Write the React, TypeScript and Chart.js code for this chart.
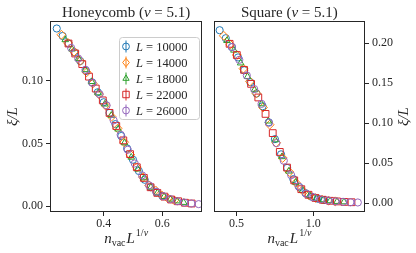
import React, { useEffect, useRef } from 'react';
import { Chart, registerables } from 'chart.js';
Chart.register(...registerables);

const seriesLabels = ['10000', '14000', '18000', '22000', '26000'];
const colors = ['#1f77b4', '#ff7f0e', '#2ca02c', '#d62728', '#9467bd'];
const markers = ['circle', 'rectRot', 'triangle', 'rect', 'circle'];
const radii = [3.6, 4.4, 3.8, 4.8, 3.6];

// Honeycomb panel
const honeyX10000 = [0.24, 0.26, 0.28, 0.30, 0.32, 0.34, 0.36, 0.38, 0.40, 0.42, 0.44, 0.46, 0.48, 0.50, 0.52, 0.54, 0.56, 0.58, 0.60];
const honeyY10000 = [0.142, 0.136, 0.130, 0.123, 0.116, 0.108, 0.099, 0.091, 0.083, 0.0745, 0.0655, 0.056, 0.046, 0.037, 0.028, 0.021, 0.015, 0.011, 0.008];
const honeyX14000 = [0.256, 0.278, 0.299, 0.320, 0.342, 0.363, 0.384, 0.406, 0.427, 0.448, 0.470, 0.491, 0.513, 0.534, 0.555, 0.577, 0.598, 0.620, 0.641];
const honeyY14000 = [0.137, 0.1305, 0.1235, 0.116, 0.107, 0.098, 0.0895, 0.0805, 0.0715, 0.062, 0.051, 0.041, 0.031, 0.023, 0.0165, 0.0125, 0.0085, 0.006, 0.0045];
const honeyX18000 = [0.269, 0.292, 0.314, 0.337, 0.359, 0.381, 0.404, 0.426, 0.449, 0.471, 0.494, 0.516, 0.538, 0.561, 0.583, 0.606, 0.628, 0.651, 0.673];
const honeyY18000 = [0.133, 0.1255, 0.118, 0.109, 0.0995, 0.0905, 0.0815, 0.0725, 0.0615, 0.0505, 0.039, 0.0295, 0.0225, 0.015, 0.0105, 0.0075, 0.0055, 0.004, 0.0028];
const honeyX22000 = [0.280, 0.303, 0.327, 0.350, 0.373, 0.397, 0.420, 0.443, 0.467, 0.490, 0.513, 0.537, 0.560, 0.583, 0.607, 0.630, 0.654, 0.677, 0.700];
const honeyY22000 = [0.130, 0.122, 0.1135, 0.1035, 0.094, 0.0845, 0.0745, 0.064, 0.0525, 0.0415, 0.031, 0.0225, 0.015, 0.0105, 0.0075, 0.0052, 0.0038, 0.0026, 0.002];
const honeyX26000 = [0.289, 0.313, 0.338, 0.362, 0.386, 0.410, 0.434, 0.458, 0.482, 0.506, 0.531, 0.555, 0.579, 0.603, 0.627, 0.651, 0.675, 0.699, 0.724];
const honeyY26000 = [0.1265, 0.118, 0.109, 0.0985, 0.0895, 0.0805, 0.0685, 0.057, 0.045, 0.034, 0.0245, 0.0165, 0.0115, 0.0078, 0.0055, 0.0038, 0.0027, 0.002, 0.0015];

// Square panel
const squareX10000 = [0.39, 0.43, 0.47, 0.51, 0.55, 0.59, 0.63, 0.67, 0.71, 0.75, 0.79, 0.83, 0.87, 0.91, 0.95, 0.99, 1.03, 1.07];
const squareY10000 = [0.216, 0.206, 0.195, 0.182, 0.166, 0.151, 0.137, 0.121, 0.101, 0.080, 0.061, 0.044, 0.030, 0.020, 0.0125, 0.008, 0.0055, 0.004];
const squareX14000 = [0.417, 0.459, 0.502, 0.545, 0.587, 0.630, 0.673, 0.716, 0.758, 0.801, 0.844, 0.887, 0.929, 0.972, 1.015, 1.057, 1.100, 1.143];
const squareY14000 = [0.209, 0.198, 0.185, 0.168, 0.152, 0.137, 0.1195, 0.098, 0.0755, 0.0565, 0.039, 0.0255, 0.016, 0.0098, 0.0065, 0.0045, 0.0032, 0.0024];
const squareX18000 = [0.438, 0.483, 0.527, 0.572, 0.617, 0.662, 0.707, 0.752, 0.796, 0.841, 0.886, 0.931, 0.976, 1.020, 1.065, 1.110, 1.155, 1.200];
const squareY18000 = [0.203, 0.191, 0.175, 0.158, 0.1415, 0.124, 0.1025, 0.079, 0.058, 0.040, 0.026, 0.016, 0.0096, 0.006, 0.0042, 0.003, 0.0021, 0.0016];
const squareX22000 = [0.455, 0.502, 0.549, 0.595, 0.642, 0.689, 0.736, 0.782, 0.829, 0.876, 0.922, 0.969, 1.015, 1.062, 1.109, 1.155, 1.202, 1.249];
const squareY22000 = [0.199, 0.185, 0.1665, 0.149, 0.132, 0.1115, 0.0875, 0.064, 0.0445, 0.0285, 0.0175, 0.0105, 0.0065, 0.0043, 0.003, 0.0022, 0.0016, 0.0012];
const squareX26000 = [0.470, 0.518, 0.567, 0.615, 0.663, 0.711, 0.760, 0.808, 0.856, 0.904, 0.953, 1.001, 1.049, 1.097, 1.145, 1.194, 1.242, 1.290];
const squareY26000 = [0.195, 0.179, 0.1595, 0.1425, 0.124, 0.1005, 0.075, 0.053, 0.035, 0.021, 0.012, 0.0074, 0.0047, 0.0034, 0.0023, 0.0017, 0.0012, 0.0009];

const honeyXTicks = [0.4, 0.6];
const honeyYTicks = [0, 0.05, 0.1];
const squareXTicks = [0.5, 1.0];
const squareYTicks = [0, 0.05, 0.1, 0.15, 0.2];

const honeyXs = [honeyX10000, honeyX14000, honeyX18000, honeyX22000, honeyX26000];
const honeyYs = [honeyY10000, honeyY14000, honeyY18000, honeyY22000, honeyY26000];
const squareXs = [squareX10000, squareX14000, squareX18000, squareX22000, squareX26000];
const squareYs = [squareY10000, squareY14000, squareY18000, squareY22000, squareY26000];

const SERIF = "'Liberation Serif', 'DejaVu Serif', serif";
const INK = '#262626';

type Part = { t: string; f: string; dy?: number; dx?: number };

function drawParts(ctx: CanvasRenderingContext2D, parts: Part[], cx: number, y: number, align: 'center' | 'left' = 'center') {
  let total = 0;
  for (const p of parts) {
    ctx.font = p.f;
    total += ctx.measureText(p.t).width + (p.dx || 0);
  }
  let x = align === 'center' ? cx - total / 2 : cx;
  ctx.textBaseline = 'alphabetic';
  ctx.textAlign = 'left';
  for (const p of parts) {
    ctx.font = p.f;
    x += p.dx || 0;
    ctx.fillText(p.t, x, y + (p.dy || 0));
    x += ctx.measureText(p.t).width;
  }
}

function drawMarker(ctx: CanvasRenderingContext2D, style: string, x: number, y: number, r: number) {
  ctx.beginPath();
  if (style === 'circle') {
    ctx.arc(x, y, r, 0, Math.PI * 2);
  } else if (style === 'rect') {
    const s = Math.SQRT1_2 * r;
    ctx.rect(x - s, y - s, 2 * s, 2 * s);
  } else if (style === 'rectRot') {
    ctx.moveTo(x, y - r); ctx.lineTo(x + r * 0.8, y); ctx.lineTo(x, y + r); ctx.lineTo(x - r * 0.8, y); ctx.closePath();
  } else if (style === 'triangle') {
    ctx.moveTo(x, y - r); ctx.lineTo(x + r * 0.87, y + r * 0.5); ctx.lineTo(x - r * 0.87, y + r * 0.5); ctx.closePath();
  }
  ctx.stroke();
}

function xLabelParts(): Part[] {
  return [
    { t: 'n', f: `italic 15px ${SERIF}` },
    { t: 'vac', f: `10px ${SERIF}`, dy: 3 },
    { t: 'L', f: `italic 15px ${SERIF}`, dx: 1 },
    { t: '1/', f: `10px ${SERIF}`, dy: -7, dx: 1 },
    { t: 'ν', f: `italic 10px ${SERIF}`, dy: -7 },
  ];
}

function makeDatasets(xs: number[][], ys: number[][]) {
  return xs.map((xArr, i) => ({
    label: 'L = ' + seriesLabels[i],
    data: xArr.map((x, j) => ({ x, y: ys[i][j] })),
    pointStyle: markers[i],
    pointRadius: radii[i],
    pointBorderWidth: 1,
    borderColor: colors[i],
    backgroundColor: 'rgba(0,0,0,0)',
    pointBackgroundColor: 'rgba(0,0,0,0)',
    showLine: false,
    order: 4 - i,
  }));
}

function tickAxis(min: number, max: number, ticks: number[], digits: number, position: string, size: number, isX: boolean) {
  return {
    type: 'linear',
    position,
    min,
    max,
    afterBuildTicks: (scale: any) => { scale.ticks = ticks.map((v) => ({ value: v })); },
    afterFit: (scale: any) => { if (isX) scale.height = size; else scale.width = size; },
    grid: { display: true, drawOnChartArea: false, drawTicks: true, tickLength: 4, color: INK },
    border: { display: false },
    ticks: {
      padding: isX ? 1 : 3,
      color: INK,
      font: { family: SERIF, size: 12 },
      maxRotation: 0,
      callback: (v: any) => Number(v).toFixed(digits),
    },
  };
}

const framePlugin = {
  id: 'frame',
  afterDraw(chart: any) {
    const { ctx, chartArea: a } = chart;
    ctx.save();
    ctx.strokeStyle = INK;
    ctx.lineWidth = 1;
    ctx.strokeRect(Math.round(a.left) + 0.5, Math.round(a.top) + 0.5, Math.round(a.right - a.left) - 1, Math.round(a.bottom - a.top) - 1);
    ctx.restore();
  },
};

function LeftPanel() {
  const ref = useRef<HTMLCanvasElement>(null);
  useEffect(() => {
    const textPlugin = {
      id: 'leftText',
      afterDraw(chart: any) {
        const { ctx, chartArea: a } = chart;
        ctx.save();
        ctx.fillStyle = INK;
        const cx = (a.left + a.right) / 2;
        drawParts(ctx, [
          { t: 'Honeycomb (', f: `15px ${SERIF}` },
          { t: 'ν', f: `italic 15px ${SERIF}` },
          { t: ' = 5.1)', f: `15px ${SERIF}` },
        ], cx, 17);
        drawParts(ctx, xLabelParts(), cx, 243);
        // y label
        ctx.save();
        ctx.translate(17, (a.top + a.bottom) / 2);
        ctx.rotate(-Math.PI / 2);
        drawParts(ctx, [{ t: 'ξ/', f: `italic 15px ${SERIF}` }, { t: 'L', f: `italic 15px ${SERIF}` }], 0, 0);
        ctx.restore();
        // legend
        const bx = 119, by = 37, bw = 80, bh = 82;
        ctx.beginPath();
        ctx.roundRect(bx + 0.5, by + 0.5, bw, bh, 3);
        ctx.fillStyle = 'rgba(255,255,255,0.8)';
        ctx.fill();
        ctx.strokeStyle = '#cccccc';
        ctx.lineWidth = 1;
        ctx.stroke();
        for (let i = 0; i < 5; i++) {
          const yy = by + 9.5 + i * 16;
          ctx.strokeStyle = colors[i];
          ctx.lineWidth = 1;
          ctx.beginPath();
          ctx.moveTo(126, yy - 6);
          ctx.lineTo(126, yy + 6);
          ctx.stroke();
          drawMarker(ctx, markers[i], 126, yy, radii[i] * 0.95);
          ctx.fillStyle = INK;
          drawParts(ctx, [
            { t: 'L', f: `italic 12.5px ${SERIF}` },
            { t: ' = ' + seriesLabels[i], f: `12.5px ${SERIF}` },
          ], 136, yy + 4.5, 'left');
        }
        ctx.restore();
      },
    };
    const chart = new Chart(ref.current as HTMLCanvasElement, {
      type: 'scatter',
      data: { datasets: makeDatasets(honeyXs, honeyYs) as any },
      options: {
        animation: false,
        responsive: false,
        layout: { padding: { top: 21, right: 5, left: 0, bottom: 0 } },
        plugins: { legend: { display: false }, tooltip: { enabled: false } },
        scales: {
          x: tickAxis(0.217, 0.736, honeyXTicks, 1, 'bottom', 41, true) as any,
          y: tickAxis(-0.0048, 0.148, honeyYTicks, 2, 'left', 50, false) as any,
        },
      },
      plugins: [framePlugin, textPlugin],
    });
    return () => chart.destroy();
  }, []);
  return <canvas ref={ref} width={208} height={253} style={{ position: 'absolute', left: 0, top: 0, width: 208, height: 253 }} />;
}

function RightPanel() {
  const ref = useRef<HTMLCanvasElement>(null);
  useEffect(() => {
    const textPlugin = {
      id: 'rightText',
      afterDraw(chart: any) {
        const { ctx, chartArea: a } = chart;
        ctx.save();
        ctx.fillStyle = INK;
        const cx = (a.left + a.right) / 2;
        drawParts(ctx, [
          { t: 'Square (', f: `15px ${SERIF}` },
          { t: 'ν', f: `italic 15px ${SERIF}` },
          { t: ' = 5.1)', f: `15px ${SERIF}` },
        ], cx, 17);
        drawParts(ctx, xLabelParts(), cx, 243);
        ctx.save();
        ctx.translate(416 - 208 - 8, (a.top + a.bottom) / 2);
        ctx.rotate(-Math.PI / 2);
        drawParts(ctx, [{ t: 'ξ/', f: `italic 15px ${SERIF}` }, { t: 'L', f: `italic 15px ${SERIF}` }], 0, 0);
        ctx.restore();
        ctx.restore();
      },
    };
    const chart = new Chart(ref.current as HTMLCanvasElement, {
      type: 'scatter',
      data: { datasets: makeDatasets(squareXs, squareYs) as any },
      options: {
        animation: false,
        responsive: false,
        layout: { padding: { top: 21, right: 0, left: 4, bottom: 0 } },
        plugins: { legend: { display: false }, tooltip: { enabled: false } },
        scales: {
          x: tickAxis(0.352, 1.337, squareXTicks, 1, 'bottom', 41, true) as any,
          y: tickAxis(-0.011, 0.2275, squareYTicks, 2, 'right', 51, false) as any,
        },
      },
      plugins: [framePlugin, textPlugin],
    });
    return () => chart.destroy();
  }, []);
  return <canvas ref={ref} width={208} height={253} style={{ position: 'absolute', left: 208, top: 0, width: 208, height: 253 }} />;
}

export default function App() {
  return (
    <div style={{ position: 'fixed', left: 0, top: 0, width: 416, height: 253, background: '#fff' }}>
      <LeftPanel />
      <RightPanel />
    </div>
  );
}
